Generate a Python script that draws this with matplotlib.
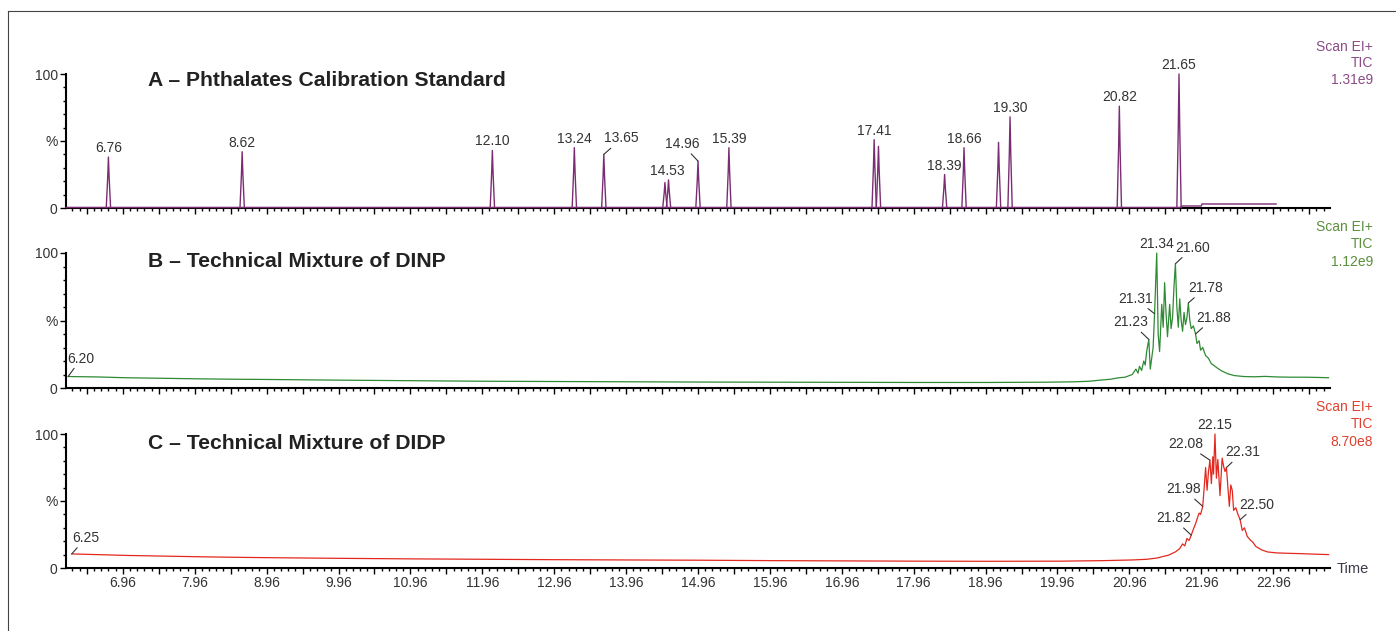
import numpy as np
import matplotlib.pyplot as plt
from matplotlib.lines import Line2D
from matplotlib.ticker import FixedLocator, FuncFormatter, MultipleLocator

plt.rcParams['font.family'] = ['Liberation Sans', 'DejaVu Sans']

# ---- A: phthalates calibration standard (peak time in min, height in %) ----
peak_t_a = [6.76, 8.62, 12.10, 13.24, 13.65, 14.50, 14.55, 14.96, 15.39,
            17.41, 17.47, 18.39, 18.66, 19.14, 19.30, 20.82, 21.65]
peak_h_a = [38, 42, 43, 45, 40, 19, 21, 35, 45, 51, 46, 25, 45, 49, 68, 76, 100]
base_t_a = [6.17, 21.66, 21.70, 21.96, 21.97, 23.00]
base_h_a = [0.4, 0.4, 1.5, 1.5, 3.0, 3.0]
lab_a = ['6.76', '8.62', '12.10', '13.24', '13.65', '14.53', '14.96', '15.39',
         '17.41', '18.39', '18.66', '19.30', '20.82', '21.65']
lab_t_a = [6.76, 8.62, 12.10, 13.24, 13.65, 14.53, 14.96, 15.39,
           17.41, 18.39, 18.66, 19.30, 20.82, 21.65]
lab_h_a = [38, 42, 43, 45, 40, 21, 35, 45, 51, 25, 45, 68, 76, 100]

# ---- B: technical mixture of DINP ----
t_b = [6.20, 6.6, 7.0, 7.5, 8.0, 8.5, 9.0, 10.0, 11.0, 12.0, 13.0, 14.0, 15.0,
       16.0, 17.0, 18.0, 19.0, 19.8, 20.2, 20.4, 20.55, 20.7, 20.8, 20.9, 21.0,
       21.05, 21.08, 21.10, 21.13, 21.16, 21.18, 21.20, 21.23, 21.25, 21.27,
       21.29, 21.31, 21.34, 21.36, 21.38, 21.41, 21.43, 21.45, 21.47, 21.49,
       21.52, 21.54, 21.56, 21.58, 21.60, 21.62, 21.64, 21.66, 21.68, 21.70,
       21.72, 21.74, 21.76, 21.78, 21.80, 21.82, 21.85, 21.88, 21.90, 21.93,
       21.95, 21.98, 22.02, 22.06, 22.10, 22.14, 22.19, 22.25, 22.33, 22.42,
       22.55, 22.70, 22.85, 23.0, 23.2, 23.4, 23.6, 23.73]
v_b = [8.5, 8.2, 7.6, 7.2, 6.8, 6.5, 6.3, 5.8, 5.4, 5.0, 4.8, 4.6, 4.4,
       4.3, 4.2, 4.1, 4.1, 4.3, 4.6, 5.0, 5.8, 6.5, 7.5, 8.0, 10.0,
       14.0, 11.0, 16.0, 13.0, 20.0, 17.0, 27.0, 36.0, 14.0, 22.0,
       30.0, 55.0, 100.0, 40.0, 27.0, 62.0, 45.0, 78.0, 55.0, 38.0,
       62.0, 44.0, 52.0, 75.0, 92.0, 60.0, 45.0, 66.0, 50.0, 42.0,
       56.0, 47.0, 52.0, 63.0, 50.0, 44.0, 46.0, 40.0, 33.0, 35.0,
       28.0, 30.0, 24.0, 22.0, 18.0, 16.5, 14.5, 12.5, 10.5, 9.2,
       8.5, 8.3, 8.6, 8.2, 8.0, 8.0, 7.8, 7.6]
lab_b = ['6.20', '21.23', '21.31', '21.34', '21.60', '21.78', '21.88']
lab_t_b = [6.20, 21.23, 21.31, 21.34, 21.60, 21.78, 21.88]
lab_h_b = [8.5, 36, 55, 100, 92, 63, 40]

# ---- C: technical mixture of DIDP ----
t_c = [6.25, 6.6, 7.0, 7.5, 8.0, 8.5, 9.0, 10.0, 11.0, 12.0, 13.0, 14.0, 15.0,
       16.0, 17.0, 18.0, 19.0, 20.0, 20.6, 21.0, 21.2, 21.35, 21.42, 21.50,
       21.60, 21.66, 21.70, 21.73, 21.76, 21.79, 21.82, 21.85, 21.88, 21.91,
       21.93, 21.95, 21.98, 22.00, 22.02, 22.04, 22.06, 22.08, 22.10, 22.12,
       22.13, 22.15, 22.17, 22.19, 22.22, 22.25, 22.27, 22.29, 22.31, 22.33,
       22.35, 22.37, 22.39, 22.41, 22.44, 22.47, 22.50, 22.53, 22.56, 22.60,
       22.64, 22.68, 22.72, 22.80, 22.88, 23.0, 23.15, 23.35, 23.55, 23.73]
v_c = [10.5, 10.0, 9.4, 8.9, 8.4, 8.0, 7.7, 7.2, 6.8, 6.5, 6.2, 6.0, 5.8,
       5.5, 5.3, 5.1, 5.0, 5.1, 5.5, 6.0, 6.5, 7.5, 8.5, 9.5,
       12.0, 14.5, 18.0, 16.5, 22.0, 20.5, 24.5, 29.0, 33.0, 38.0,
       41.0, 40.0, 46.0, 60.0, 75.0, 58.0, 72.0, 80.5, 63.0, 83.0,
       70.0, 100.0, 67.0, 81.0, 54.0, 82.0, 76.0, 72.0, 75.0, 60.0,
       46.0, 62.0, 58.0, 43.0, 45.0, 40.0, 36.0, 28.0, 30.0, 23.5,
       21.0, 19.0, 16.0, 13.5, 12.0, 11.3, 11.0, 10.7, 10.3, 10.0]
lab_c = ['6.25', '21.82', '21.98', '22.08', '22.15', '22.31', '22.50']
lab_t_c = [6.25, 21.82, 21.98, 22.08, 22.15, 22.31, 22.50]
lab_h_c = [10.5, 24.5, 46, 80.5, 100, 75, 36]

titles = ['A \u2013 Phthalates Calibration Standard',
          'B \u2013 Technical Mixture of DINP',
          'C \u2013 Technical Mixture of DIDP']
scales = ['1.31e9', '1.12e9', '8.70e8']

# label offsets in pixels (text centre relative to the peak), None = straight above
offs_a = [None, None, None, None, (18, 16), None, (-16, 17), None,
          None, None, None, None, None, None]
offs_b = [(13, 18), (-18, 17), (-19, 15), None, (17, 16), (17, 15), (18, 16)]
offs_c = [(14, 16), (-18, 17), (-19, 17), (-24, 16), None, (16, 15), (17, 15)]

col_trace = ['#7b2d74', '#2f8a35', '#e3291f']
col_info = ['#8c4a86', '#5a8f3c', '#e0402f']
txt_col = '#333333'

W, H = 1396, 631
fig = plt.figure(figsize=(W / 100, H / 100), dpi=100)

# panel boxes in pixels: (top of 100, y of 0)
boxes = [(74, 208), (253, 388), (434, 568)]
x0, x1 = 66, 1330
axes = []
for top, bot in boxes:
    ax = fig.add_axes([x0 / W, 1 - bot / H, (x1 - x0) / W, (bot - top) / H])
    axes.append(ax)

maj = np.arange(6.46, 23.8, 0.5)
mnr = np.arange(6.26, 23.8, 0.1)


def fmt(t, pos):
    k = t - 6.96
    if abs(k - round(k)) < 1e-6:
        return '%.2f' % t
    return ''


for i, ax in enumerate(axes):
    ax.set_xlim(6.17, 23.75)
    ax.set_ylim(0, 100)
    for s in ['top', 'right']:
        ax.spines[s].set_visible(False)
    for s in ['left', 'bottom']:
        ax.spines[s].set_linewidth(1.5)
        ax.spines[s].set_color('black')
    ax.xaxis.set_major_locator(FixedLocator(maj))
    ax.xaxis.set_minor_locator(FixedLocator(mnr))
    ax.xaxis.set_major_formatter(FuncFormatter(fmt))
    ax.set_yticks([0, 50, 100])
    ax.set_yticklabels(['0', '%', '100'])
    ax.yaxis.set_minor_locator(MultipleLocator(10))
    ax.tick_params(which='major', length=4.5, width=1, colors='black',
                   labelcolor=txt_col, labelsize=10, pad=1.5)
    ax.tick_params(which='minor', length=2.2, width=1, colors='black')
    if i < 2:
        ax.tick_params(labelbottom=False)
    ax.patch.set_alpha(0)
    ax.text(0.065, [0.951, 0.94, 0.929][i], titles[i], transform=ax.transAxes,
            fontsize=15.2, fontweight='bold', color='#222222', va='center', ha='left')

# traces
axA, axB, axC = axes
axA.plot(base_t_a, base_h_a, color=col_trace[0], lw=1.0, clip_on=False, zorder=3)
for t, h in zip(peak_t_a, peak_h_a):
    axA.plot([t - 0.03, t - 0.01, t, t + 0.01, t + 0.03],
             [0.4, 0.6 * h, h, 0.6 * h, 0.4],
             color=col_trace[0], lw=1.0, clip_on=False, zorder=3)
axB.plot(t_b, v_b, color=col_trace[1], lw=0.9, clip_on=False, zorder=3)
axC.plot(t_c, v_c, color=col_trace[2], lw=0.9, clip_on=False, zorder=3)

# peak labels
for ax, labs, lt, lh, offs in [(axA, lab_a, lab_t_a, lab_h_a, offs_a),
                               (axB, lab_b, lab_t_b, lab_h_b, offs_b),
                               (axC, lab_c, lab_t_c, lab_h_c, offs_c)]:
    for s, t, h, o in zip(labs, lt, lh, offs):
        if o is None:
            ax.annotate(s, (t, h), xytext=(0, 2), textcoords='offset pixels',
                        ha='center', va='bottom', fontsize=10, color=txt_col)
        else:
            ax.annotate(s, (t, h), xytext=o, textcoords='offset pixels',
                        ha='center', va='center', fontsize=10, color=txt_col,
                        arrowprops=dict(arrowstyle='-', color='#333333', lw=0.8,
                                        shrinkA=0, shrinkB=0))

# right-hand info text
info_y = [(47, 63, 80), (227, 244, 262), (407, 424, 442)]
for i in range(3):
    for txt, y in zip(['Scan EI+', 'TIC', scales[i]], info_y[i]):
        fig.text(1373 / W, 1 - y / H, txt, ha='right', va='center',
                 fontsize=10, color=col_info[i])

fig.text(1337 / W, 1 - 569 / H, 'Time', ha='left', va='center',
         fontsize=10.5, color='#3a3a4a')

# frame lines
fig.add_artist(Line2D([8 / W, 8 / W], [0, 1 - 11 / H], color='#444444', lw=0.8))
fig.add_artist(Line2D([8 / W, 1], [1 - 11 / H, 1 - 11 / H], color='#444444', lw=0.8))

fig.savefig('out.png', dpi=100)
